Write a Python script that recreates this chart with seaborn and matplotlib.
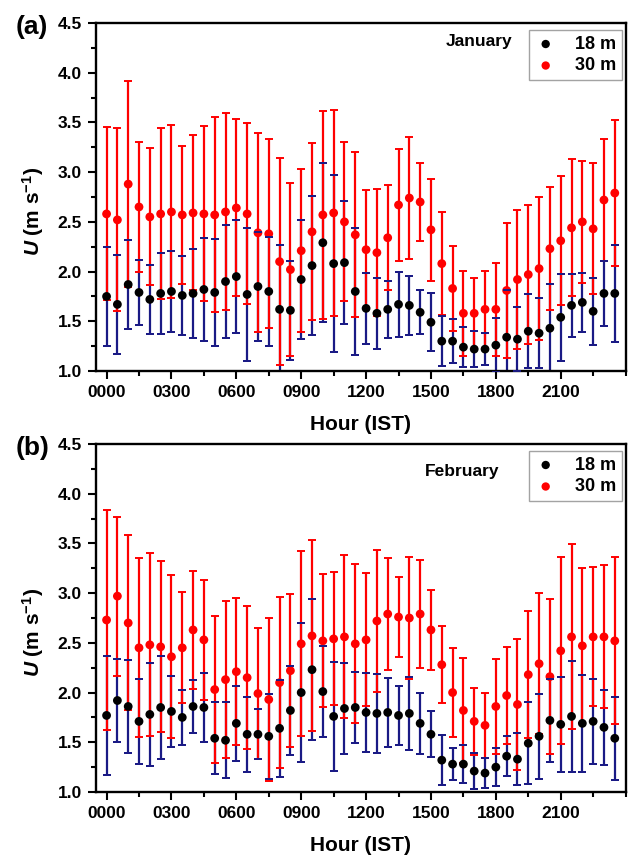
import numpy as np
import pandas as pd
import matplotlib
matplotlib.use("Agg")
import matplotlib.pyplot as plt
import seaborn as sns
from matplotlib.ticker import MultipleLocator, FixedLocator, FormatStrFormatter

# ---------------- data ----------------
hours = [h * 0.5 for h in range(48)]
tick_pos = [0, 3, 6, 9, 12, 15, 18, 21]
tick_labels = ["0000", "0300", "0600", "0900", "1200", "1500", "1800", "2100"]

jan_18_mean = [1.75, 1.67, 1.87, 1.79, 1.72, 1.78, 1.80, 1.76, 1.78, 1.82, 1.79, 1.90,
               1.95, 1.77, 1.85, 1.80, 1.62, 1.61, 1.92, 2.06, 2.29, 2.08, 2.09, 1.80,
               1.63, 1.58, 1.62, 1.67, 1.66, 1.59, 1.49, 1.30, 1.30, 1.24, 1.22, 1.22,
               1.26, 1.34, 1.32, 1.40, 1.38, 1.43, 1.54, 1.66, 1.69, 1.60, 1.78, 1.78]
jan_18_sd = [0.50, 0.50, 0.45, 0.33, 0.35, 0.41, 0.41, 0.40, 0.45, 0.52, 0.54, 0.57,
             0.57, 0.67, 0.55, 0.55, 0.65, 0.50, 0.60, 0.70, 0.80, 0.89, 0.62, 0.64,
             0.36, 0.36, 0.29, 0.33, 0.30, 0.22, 0.29, 0.25, 0.22, 0.20, 0.18, 0.16,
             0.27, 0.47, 0.32, 0.37, 0.35, 0.45, 0.44, 0.32, 0.30, 0.34, 0.33, 0.49]
jan_30_mean = [2.58, 2.52, 2.88, 2.65, 2.55, 2.58, 2.60, 2.57, 2.59, 2.58, 2.57, 2.60,
               2.64, 2.58, 2.39, 2.38, 2.10, 2.02, 2.21, 2.40, 2.57, 2.59, 2.50, 2.37,
               2.22, 2.19, 2.34, 2.67, 2.74, 2.70, 2.42, 2.08, 1.83, 1.58, 1.58, 1.62,
               1.62, 1.81, 1.92, 1.97, 2.03, 2.23, 2.31, 2.44, 2.50, 2.43, 2.72, 2.79]
jan_30_sd = [0.87, 0.92, 1.04, 0.65, 0.69, 0.86, 0.87, 0.69, 0.78, 0.88, 0.98, 0.99,
             0.89, 0.91, 1.00, 0.95, 1.04, 0.87, 0.82, 0.89, 1.05, 1.04, 0.80, 0.83,
             0.60, 0.64, 0.53, 0.56, 0.61, 0.39, 0.51, 0.52, 0.43, 0.43, 0.36, 0.39,
             0.47, 0.68, 0.70, 0.70, 0.72, 0.62, 0.65, 0.69, 0.61, 0.66, 0.61, 0.73]

feb_18_mean = [1.77, 1.92, 1.86, 1.71, 1.78, 1.85, 1.81, 1.75, 1.86, 1.85, 1.54, 1.52,
               1.69, 1.58, 1.58, 1.56, 1.64, 1.82, 2.00, 2.23, 2.01, 1.76, 1.84, 1.85,
               1.80, 1.79, 1.80, 1.77, 1.79, 1.69, 1.58, 1.32, 1.28, 1.28, 1.21, 1.19,
               1.25, 1.36, 1.33, 1.49, 1.56, 1.72, 1.68, 1.76, 1.69, 1.71, 1.65, 1.54]
feb_18_sd = [0.60, 0.42, 0.47, 0.43, 0.52, 0.52, 0.36, 0.28, 0.27, 0.35, 0.36, 0.38,
             0.38, 0.38, 0.25, 0.43, 0.49, 0.45, 0.70, 0.71, 0.46, 0.55, 0.46, 0.36,
             0.40, 0.40, 0.35, 0.30, 0.37, 0.31, 0.23, 0.25, 0.16, 0.19, 0.18, 0.15,
             0.19, 0.20, 0.26, 0.41, 0.43, 0.42, 0.48, 0.56, 0.49, 0.43, 0.38, 0.42]
feb_30_mean = [2.73, 2.97, 2.70, 2.45, 2.48, 2.46, 2.36, 2.45, 2.63, 2.53, 2.03, 2.13,
               2.21, 2.15, 1.99, 1.93, 2.10, 2.22, 2.49, 2.57, 2.52, 2.54, 2.56, 2.49,
               2.53, 2.72, 2.79, 2.76, 2.75, 2.79, 2.63, 2.28, 2.00, 1.82, 1.71, 1.67,
               1.86, 1.97, 1.88, 2.18, 2.29, 2.16, 2.42, 2.56, 2.47, 2.56, 2.56, 2.52]
feb_30_sd = [1.11, 0.80, 0.88, 0.90, 0.92, 0.86, 0.82, 0.56, 0.59, 0.60, 0.74, 0.79,
             0.74, 0.72, 0.66, 0.82, 0.86, 0.77, 0.93, 0.96, 0.67, 0.67, 0.82, 0.80,
             0.67, 0.71, 0.56, 0.40, 0.61, 0.54, 0.40, 0.39, 0.45, 0.53, 0.34, 0.33,
             0.48, 0.49, 0.66, 0.64, 0.71, 0.78, 0.94, 0.93, 0.78, 0.70, 0.72, 0.84]

panel_labels = ["(a)", "(b)"]
month_names = ["January", "February"]
series_labels = ["18 m", "30 m"]

panels = [
    (panel_labels[0], month_names[0], jan_18_mean, jan_18_sd, jan_30_mean, jan_30_sd, (0.787, 0.947)),
    (panel_labels[1], month_names[1], feb_18_mean, feb_18_sd, feb_30_mean, feb_30_sd, (0.762, 0.922)),
]

# ---------------- style ----------------
sns.set_theme(style="ticks")
plt.rcParams["font.family"] = ["Liberation Sans", "DejaVu Sans"]
plt.rcParams["font.weight"] = "bold"
plt.rcParams["text.color"] = "black"
plt.rcParams["axes.labelcolor"] = "black"
plt.rcParams["xtick.color"] = "black"
plt.rcParams["ytick.color"] = "black"
plt.rcParams["mathtext.fontset"] = "custom"
plt.rcParams["mathtext.it"] = "Liberation Sans:italic:bold"
plt.rcParams["mathtext.bf"] = "Liberation Sans:bold"
plt.rcParams["mathtext.rm"] = "Liberation Sans:bold"

RED = "#ff0000"
NAVY = "#1a1a85"

fig = plt.figure(figsize=(6.30, 8.56), dpi=100)
axes_rects = [[0.152, 0.5666, 0.841, 0.4065], [0.152, 0.0748, 0.841, 0.4065]]

for rect, (plabel, month, m18, s18, m30, s30, mpos) in zip(axes_rects, panels):
    ax = fig.add_axes(rect)
    df = pd.DataFrame({"hour": hours, "m18": m18, "s18": s18, "m30": m30, "s30": s30})

    # 18 m error lines (navy)
    ax.errorbar(df["hour"], df["m18"], yerr=df["s18"], fmt="none", ecolor=NAVY,
                elinewidth=1.6, capsize=3, capthick=1.4, zorder=2)
    # 30 m error bars (red)
    ax.errorbar(df["hour"], df["m30"], yerr=df["s30"], fmt="none", ecolor=RED,
                elinewidth=1.6, capsize=3, capthick=1.4, zorder=3)
    # markers
    sns.scatterplot(data=df, x="hour", y="m18", color="black", s=40, edgecolor="none",
                    ax=ax, zorder=4, label=series_labels[0])
    sns.scatterplot(data=df, x="hour", y="m30", color=RED, s=40, edgecolor="none",
                    ax=ax, zorder=4, label=series_labels[1])
    # navy caps on top
    ax.errorbar(df["hour"], df["m18"], yerr=df["s18"], fmt="none", ecolor=NAVY,
                elinewidth=0, capsize=3, capthick=1.4, zorder=5)

    ax.set_xlim(-0.5, 24)
    ax.set_ylim(1.0, 4.5)
    ax.xaxis.set_major_locator(FixedLocator(tick_pos))
    ax.set_xticklabels(tick_labels)
    ax.xaxis.set_minor_locator(MultipleLocator(1.5))
    ax.yaxis.set_major_locator(MultipleLocator(0.5))
    ax.yaxis.set_major_formatter(FormatStrFormatter("%.1f"))
    ax.yaxis.set_minor_locator(MultipleLocator(0.25))
    ax.tick_params(which="major", direction="out", length=6, width=1.5,
                   labelsize=12.5, pad=4, colors="black")
    ax.tick_params(which="minor", direction="out", length=3.5, width=1.5)
    for lab in ax.get_xticklabels() + ax.get_yticklabels():
        lab.set_fontweight("bold")
    for sp in ax.spines.values():
        sp.set_linewidth(1.7)
        sp.set_color("black")

    ax.set_xlabel("Hour (IST)", fontsize=15, fontweight="bold", labelpad=11)
    ax.set_ylabel(r"$U$ (m s$^{\mathbf{-1}}$)", fontsize=15, fontweight="bold")
    ax.yaxis.set_label_coords(-0.093, 0.46)

    leg = ax.legend(loc="upper right", bbox_to_anchor=(0.9935, 0.979), fontsize=13,
                    frameon=True, fancybox=False, edgecolor="#8c8c8c",
                    handletextpad=1.0, borderpad=0.3, labelspacing=0.25,
                    markerscale=0.95, handlelength=1.3, borderaxespad=0.0)
    leg.get_frame().set_linewidth(1.0)
    for t in leg.get_texts():
        t.set_fontweight("bold")
        t.set_color("black")

    ax.text(mpos[0], mpos[1], month, transform=ax.transAxes, ha="right", va="center",
            fontsize=12.5, fontweight="bold")
    fig.text(0.051, rect[1] + rect[3] - 0.005, plabel, ha="center", va="center",
             fontsize=19, fontweight="bold")

fig.savefig("out.png", dpi=100)
